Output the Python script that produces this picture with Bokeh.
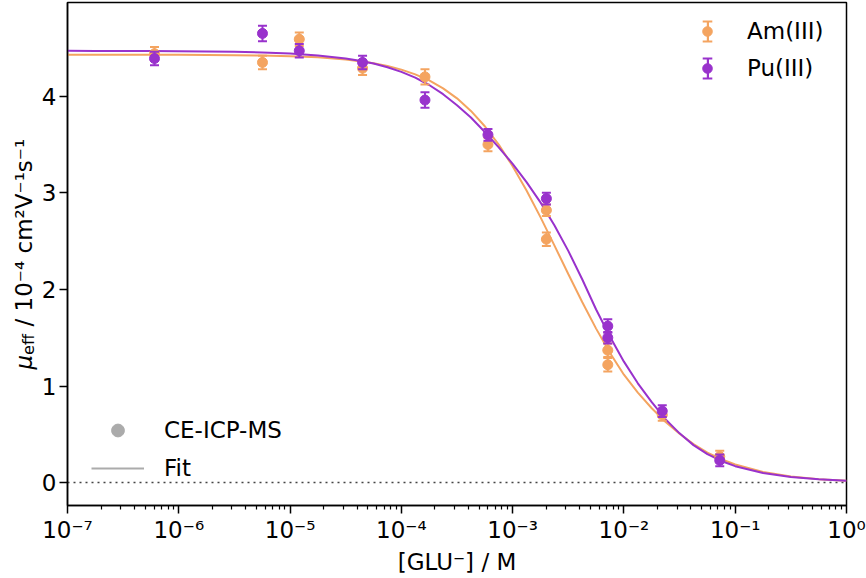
import numpy as np
from bokeh.plotting import figure
from bokeh.layouts import row
from bokeh.models import (Range1d, FixedTicker, Span, Legend, LegendItem,
                          CustomJSTickFormatter)
from bokeh.core.properties import value
from bokeh.embed import file_html
from bokeh.resources import INLINE

# ---------------- data ----------------
glu_am = [6.05e-7, 5.65e-6, 1.21e-5, 4.48e-5, 1.63e-4, 6.0e-4, 2.01e-3, 2.01e-3,
          7.16e-3, 7.16e-3, 2.21e-2, 7.26e-2]
mu_am = [4.44, 4.35, 4.59, 4.29, 4.20, 3.50, 2.82, 2.52, 1.37, 1.22, 0.70, 0.27]
err_am = [0.07, 0.07, 0.07, 0.07, 0.08, 0.07, 0.06, 0.07, 0.07, 0.07, 0.06, 0.06]

glu_pu = [6.05e-7, 5.65e-6, 1.21e-5, 4.48e-5, 1.63e-4, 6.0e-4, 2.01e-3,
          7.16e-3, 7.16e-3, 2.21e-2, 7.26e-2]
mu_pu = [4.39, 4.65, 4.47, 4.35, 3.96, 3.60, 2.94, 1.62, 1.50, 0.74, 0.23]
err_pu = [0.07, 0.08, 0.07, 0.07, 0.08, 0.06, 0.06, 0.07, 0.06, 0.06, 0.06]

fit_log_glu = [-7.0, -6.75, -6.5, -6.25, -6.0, -5.75, -5.5, -5.25, -5.0, -4.75, -4.5,
               -4.375, -4.25, -4.125, -4.0, -3.875, -3.75, -3.625, -3.5, -3.375,
               -3.25, -3.125, -3.0, -2.875, -2.75, -2.625, -2.5, -2.375, -2.25,
               -2.125, -2.0, -1.875, -1.75, -1.625, -1.5, -1.375, -1.25, -1.125,
               -1.0, -0.75, -0.5, -0.25, 0.0]
fit_am = [4.430, 4.430, 4.430, 4.429, 4.428, 4.427, 4.425, 4.421, 4.414, 4.402, 4.380,
          4.363, 4.342, 4.313, 4.275, 4.226, 4.163, 4.081, 3.978, 3.848,
          3.689, 3.499, 3.276, 3.024, 2.748, 2.456, 2.159, 1.869, 1.594,
          1.342, 1.117, 0.932, 0.770, 0.627, 0.505, 0.398, 0.310, 0.242,
          0.187, 0.110, 0.064, 0.036, 0.020]
fit_pu = [4.470, 4.469, 4.469, 4.468, 4.466, 4.464, 4.460, 4.453, 4.441, 4.422, 4.390,
          4.367, 4.338, 4.300, 4.252, 4.192, 4.116, 4.021, 3.906, 3.779,
          3.629, 3.471, 3.300, 3.111, 2.901, 2.665, 2.399, 2.105, 1.792,
          1.510, 1.252, 1.028, 0.833, 0.655, 0.510, 0.388, 0.295, 0.224,
          0.170, 0.099, 0.058, 0.034, 0.020]

x_ticks = [1e-7, 1e-6, 1e-5, 1e-4, 1e-3, 1e-2, 1e-1, 1.0]
x_tick_labels = ["10⁻⁷", "10⁻⁶", "10⁻⁵", "10⁻⁴", "10⁻³", "10⁻²", "10⁻¹", "10⁰"]
y_ticks = [0, 1, 2, 3, 4]

ORANGE = "#F4A460"
PURPLE = "#9932CC"
GREY = "#ABABAB"
FONT = "DejaVu Sans"
FS = "23px"
H = 578
LEFT_W = 38
TOP_B, BOT_B = 2, 73

# ---------------- main figure ----------------
p = figure(width=866 - LEFT_W, height=H, x_axis_type="log",
           x_range=Range1d(1e-7, 1.0), y_range=Range1d(-0.237, 4.97),
           output_backend="svg", toolbar_location=None,
           min_border_left=67 - LEFT_W, min_border_right=20, min_border_top=TOP_B,
           min_border_bottom=BOT_B)
p.grid.visible = False
p.outline_line_color = "black"
p.outline_line_width = 1.5
p.outline_line_alpha = 1.0
p.background_fill_color = "white"
p.border_fill_color = "white"

minor = [m * 10.0 ** e for e in range(-7, 0) for m in range(2, 10)]
p.xaxis.ticker = FixedTicker(ticks=x_ticks, minor_ticks=minor)
p.xaxis.formatter = CustomJSTickFormatter(
    args=dict(tk=x_ticks, lb=x_tick_labels),
    code="""
const i = tk.findIndex(t => Math.abs(Math.log10(t) - Math.log10(tick)) < 1e-6);
return i >= 0 ? lb[i] : "";
""")
p.yaxis.ticker = FixedTicker(ticks=y_ticks)

for ax in (p.xaxis[0], p.yaxis[0]):
    ax.major_label_text_font = FONT
    ax.major_label_text_font_size = FS
    ax.major_label_text_color = "black"
    ax.axis_line_width = 1.5
    ax.axis_line_color = "black"
    ax.major_tick_line_width = 1.5
    ax.major_tick_line_color = "black"
    ax.major_tick_in = 0
    ax.major_tick_out = 8
    ax.minor_tick_in = 0
    ax.minor_tick_out = 4
    ax.minor_tick_line_width = 1.2
    ax.minor_tick_line_color = "black"
    ax.major_label_standoff = 3

p.yaxis.minor_tick_line_color = None
p.xaxis.axis_label = "[GLU⁻] / M"
p.xaxis.axis_label_text_font = FONT
p.xaxis.axis_label_text_font_size = FS
p.xaxis.axis_label_text_font_style = "normal"
p.xaxis.axis_label_text_color = "black"
p.xaxis.axis_label_standoff = 3

# dotted zero line
p.add_layout(Span(location=0, dimension="width", line_color="#444444",
                  line_dash="2 4", line_width=1.5, level="underlay"))

# fits
fit_glu = [10.0 ** e for e in fit_log_glu]
p.line(fit_glu, fit_am, line_color=ORANGE, line_width=2)
p.line(fit_glu, fit_pu, line_color=PURPLE, line_width=2)

NAN = [float("nan")]


def errbars(glu, mu, err, color):
    lo = [m - e for m, e in zip(mu, err)]
    hi = [m + e for m, e in zip(mu, err)]
    p.segment(x0=glu, y0=lo, x1=glu, y1=hi, line_color=color, line_width=2)
    caps = p.scatter(x=glu + glu, y=lo + hi, marker="dash", size=9,
                     line_color=color, line_width=2)
    pts = p.scatter(x=glu, y=mu, marker="circle", size=10,
                    fill_color=color, line_color=color)
    # legend-only stem (never drawn in the plot: NaN data)
    stem = p.vbar(x=NAN, top=NAN, width=0.1, fill_color=color, line_color=None)
    return pts, caps, stem


am_pts, am_caps, am_stem = errbars(glu_am, mu_am, err_am, ORANGE)
pu_pts, pu_caps, pu_stem = errbars(glu_pu, mu_pu, err_pu, PURPLE)

# legend-only renderers (NaN data, never drawn in the plot)
leg_dot = p.scatter(x=NAN, y=NAN, marker="circle", fill_color=GREY, line_color=GREY)
leg_line = p.line(x=NAN, y=NAN, line_color=GREY, line_width=2)


def add_legend(items, loc, gw, gh, spacing, standoff):
    lg = Legend(items=items, location=loc, glyph_width=gw, glyph_height=gh,
                spacing=spacing, label_standoff=standoff, padding=0, margin=0,
                label_height=gh, label_text_font=FONT, label_text_font_size=FS,
                label_text_color="black", background_fill_alpha=0,
                border_line_alpha=0)
    p.add_layout(lg, "center")


# top-right legend: errorbar symbol = stem + two caps + dot
gx, gy = 640, 424
add_legend([LegendItem(label="", renderers=[am_stem]),
            LegendItem(label="", renderers=[pu_stem])],
           (gx - 1.5, gy), 3, 26, 11, 28)
add_legend([LegendItem(label="", renderers=[am_caps]),
            LegendItem(label="", renderers=[pu_caps])],
           (gx - 12, gy + 10.4), 24, 26, 11, 28)
add_legend([LegendItem(label="", renderers=[am_caps]),
            LegendItem(label="", renderers=[pu_caps])],
           (gx - 12, gy - 10.4), 24, 26, 11, 28)
add_legend([LegendItem(label="Am(III)", renderers=[am_pts]),
            LegendItem(label="Pu(III)", renderers=[pu_pts])],
           (gx - 12, gy), 24, 26, 11, 28)

# bottom-left legend
add_legend([LegendItem(label="CE-ICP-MS", renderers=[leg_dot]),
            LegendItem(label="Fit", renderers=[leg_line])],
           (24, 21), 53, 32, 6, 20)

# ---------------- y-axis title strip (subscript "eff") ----------------
# frame of this strip spans the same rows as the main frame; its y data
# equals (page height - pixel row) so the title pieces sit where wanted
ylab = figure(width=LEFT_W, height=H, x_range=Range1d(0, LEFT_W),
              y_range=Range1d(BOT_B, H - TOP_B),
              output_backend="svg", toolbar_location=None,
              min_border_left=0, min_border_right=0,
              min_border_top=TOP_B, min_border_bottom=BOT_B)
ylab.axis.visible = False
ylab.grid.visible = False
ylab.outline_line_color = None
ylab.background_fill_color = "white"
ylab.border_fill_color = "white"

ylabel_parts = ["μ", "eff", "/ 10⁻⁴ cm²V⁻¹s⁻¹"]
part_x = [23, 28, 23]
part_y = [H - 369, H - 354.4, H - 326]
part_size = [FS, "16px", FS]
part_style = ["italic", "normal", "normal"]
for t, xx, yy, fs, st in zip(ylabel_parts, part_x, part_y, part_size, part_style):
    ylab.text(x=[xx], y=[yy], text=[t], angle=np.pi / 2, text_align="left",
              text_baseline="alphabetic", text_font=value(FONT),
              text_font_size=value(fs), text_font_style=st, text_color="black")

layout = row(ylab, p, spacing=0)
open("out.html", "w").write(file_html(layout, INLINE))
